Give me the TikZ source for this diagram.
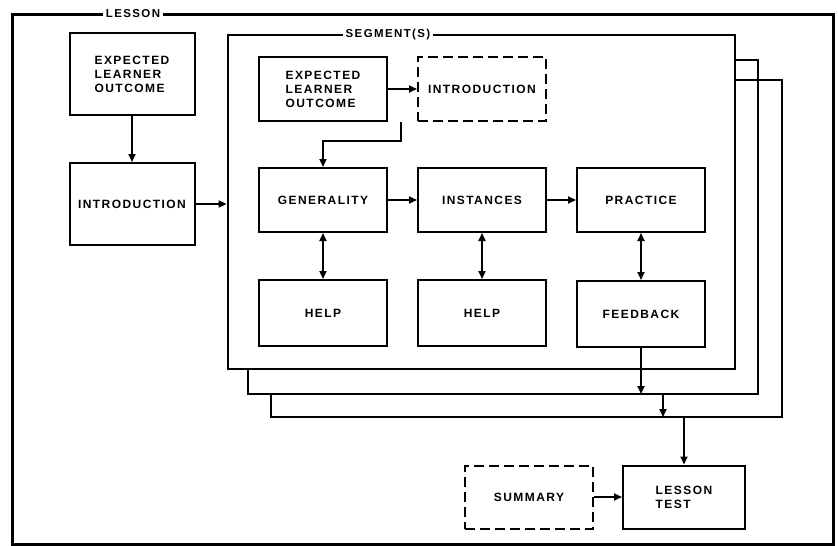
\documentclass[tikz,border=0pt]{standalone}
\usepackage{fontspec}
\setsansfont{Liberation Sans}
\usepackage{tikz}
\usetikzlibrary{arrows.meta, positioning}
\tikzset{>={Triangle[length=8pt,width=7pt]}}

\begin{document}
\begin{tikzpicture}[x=1pt,y=-1pt,
    box/.style={draw, line width=2pt, minimum width=128pt, minimum height=64pt,
      align=left, font=\sffamily\bfseries\fontsize{12}{14}\selectfont\addfontfeature{LetterSpace=12}, inner sep=0pt},
    dbox/.style={box, dash pattern=on 10pt off 5pt},
    arr/.style={->, line width=1.8pt},
    darr/.style={<->, line width=1.8pt},
    tag/.style={fill=white, inner sep=3pt, font=\sffamily\bfseries\fontsize{11.5}{12}\selectfont\addfontfeature{LetterSpace=12}}]
  \useasboundingbox (0,0) rectangle (838,546);
  % lesson frame
  \draw [line width=3pt] (12,14) rectangle (833,544);
  \node [tag] (lesson) at (133,14) {LESSON};
  % stacked segment frames
  \draw [line width=1.8pt] (735,80) -- (782,80) -- (782,417) coordinate (f3) -- (271,417) -- (271,394);
  \draw [line width=1.8pt] (735,60) -- (758,60) -- (758,394) coordinate (f2) -- (248,394) -- (248,369);
  \node [draw, fill=white, line width=2.8pt, minimum width=507pt, minimum height=334pt, inner sep=0pt] (seg) at (481.5,202) {};
  \node [tag] (segs) at (388,35) {SEGMENT(S)};
  % lesson boxes
  \node [box, minimum width=125pt, minimum height=82pt] (elo) at (132,74) {EXPECTED\\LEARNER\\OUTCOME};
  \node [box, minimum width=125pt, minimum height=82pt] (intro) at (132,204) {INTRODUCTION};
  % segment boxes
  \node [box] (selo) at (323,89) {EXPECTED\\LEARNER\\OUTCOME};
  \node [dbox] (sintro) at (482,89) {INTRODUCTION};
  \node [box] (gen) at (323,200) {GENERALITY};
  \node [box] (inst) at (482,200) {INSTANCES};
  \node [box] (prac) at (641,200) {PRACTICE};
  \node [box, minimum height=66pt] (helpa) at (323,313) {HELP};
  \node [box, minimum height=66pt] (helpb) at (482,313) {HELP};
  \node [box, minimum height=66pt] (fback) at (641,314) {FEEDBACK};
  % end of lesson
  \node [dbox, minimum height=63pt] (summ) at (529,497) {SUMMARY};
  \node [box, minimum width=122pt, minimum height=63pt] (test) at (684,497) {LESSON\\TEST};
  % connectors
  \draw [arr] (elo) -- (intro);
  \draw [arr] (intro.east) -- (intro.east -| seg.west);
  \draw [arr] (selo) -- (sintro);
  \draw [arr] (sintro.south west) ++(-16,0) -- ++(0,19) -| (gen.north);
  \draw [arr] (gen) -- (inst);
  \draw [arr] (inst) -- (prac);
  \draw [darr] (gen) -- (helpa);
  \draw [darr] (inst) -- (helpb);
  \draw [darr] (prac) -- (fback);
  \draw [arr] (fback.south) -- (fback.south |- f2);
  \draw [arr] (663,394) -- (663,417);
  \draw [arr] (test.north |- f3) -- (test.north);
  \draw [arr] (summ) -- (test);
\end{tikzpicture}
\end{document}
